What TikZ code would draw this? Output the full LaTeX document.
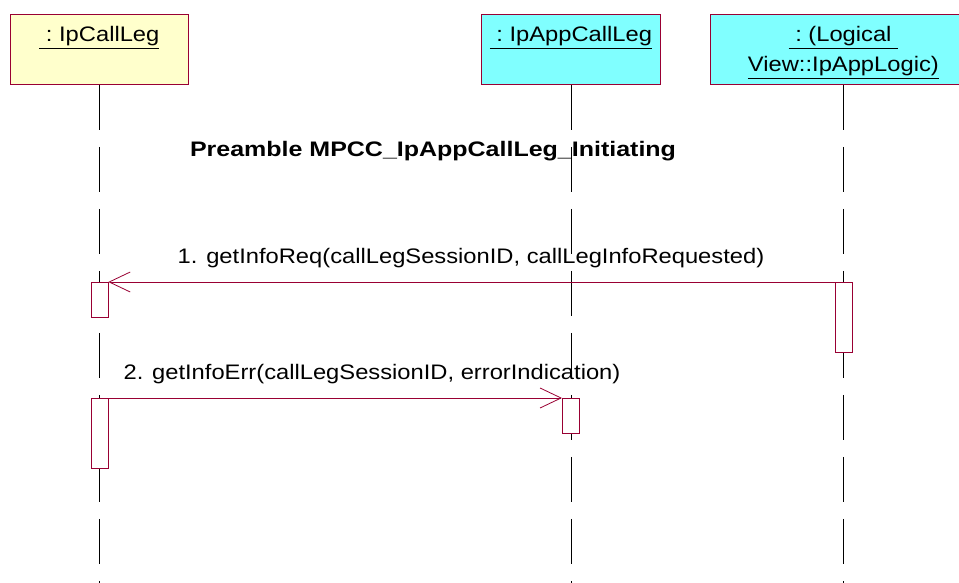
\documentclass[tikz,border=0pt]{standalone}
\usepackage{fontspec}
\setmainfont{Liberation Sans}
\usetikzlibrary{arrows.meta,positioning}

\definecolor{umlred}{RGB}{153,0,51}
\definecolor{objyellow}{RGB}{255,255,204}
\definecolor{objcyan}{RGB}{128,255,255}

% wide text, as the diagram tool set it
\newcommand{\widetext}[2][1.13]{\scalebox{#1}[1]{#2}}

\tikzset{
  objbox/.style={draw=umlred, line width=0.8pt, minimum height=70pt, inner sep=0pt},
  objlabel/.style={font=\fontsize{21}{25}\selectfont, anchor=base, inner sep=0pt},
  lifeline/.style={black, line width=0.7pt, dash pattern=on 45pt off 17pt},
  actbox/.style={draw=umlred, fill=white, line width=0.8pt, minimum width=17pt, inner sep=0pt},
  msg/.style={umlred, line width=0.8pt, -{Straight Barb[length=21pt,width=20pt,line width=0.8pt]}},
  msglabel/.style={font=\fontsize{21}{25}\selectfont, anchor=base, inner sep=0pt}
}

\begin{document}
\begin{tikzpicture}[x=1pt,y=-1pt]
  \useasboundingbox[fill=white] (0,0) rectangle (959,583);
  \clip (0,0) rectangle (959,583);

  % objects
  \node[objbox, fill=objyellow, minimum width=178pt, anchor=north west] (leg) at (10,14) {};
  \node[objbox, fill=objcyan, minimum width=179pt, anchor=north west] (appleg) at (481,14) {};
  \node[objbox, fill=objcyan, minimum width=266pt, anchor=north west] (logic) at (710,14) {};

  \node[objlabel] at (leg.north |- 0,42) {\widetext{\underline{\ :\ IpCallLeg}}};
  \node[objlabel] at (appleg.north |- 0,42) {\widetext{\underline{\ :\ IpAppCallLeg}}};
  \node[objlabel] at (logic.north |- 0,42) {\widetext{\underline{\ :\ (Logical\ }}};
  \node[objlabel] at (logic.north |- 0,72) {\widetext{\underline{View::IpAppLogic)}}};

  % lifelines
  \coordinate (legend) at (leg.south |- 0,590);
  \coordinate (applegend) at (appleg.south |- 0,590);
  \coordinate (logicend) at (logic.south |- 0,590);
  \draw[lifeline] (leg.south) -- (legend);
  \draw[lifeline] (appleg.south) -- (applegend);
  \draw[lifeline] (logic.south) -- (logicend);

  \node[font=\bfseries\fontsize{21}{25}\selectfont, anchor=base] (title) at (433,157) {\widetext[1.19]{Preamble MPCC\_IpAppCallLeg\_Initiating}};

  % activations
  \node[actbox, minimum height=35pt, anchor=north] (act1) at (leg.south |- 0,282) {};
  \node[actbox, minimum height=70pt, anchor=north] (act2) at (logic.south |- 0,282) {};
  \node[actbox, minimum height=70pt, anchor=north] (act3) at (leg.south |- 0,398) {};
  \node[actbox, minimum height=35pt, anchor=north] (act4) at (appleg.south |- 0,398) {};

  % messages
  \draw[msg] (act2.north west) -- (act1.north east);
  \node[msglabel] at (471,263) {\widetext{1. getInfoReq(callLegSessionID, callLegInfoRequested)}};
  \draw[msg] (act3.north east) -- (act4.north west);
  \node[msglabel] at (372,379) {\widetext{2. getInfoErr(callLegSessionID, errorIndication)}};
\end{tikzpicture}
\end{document}
